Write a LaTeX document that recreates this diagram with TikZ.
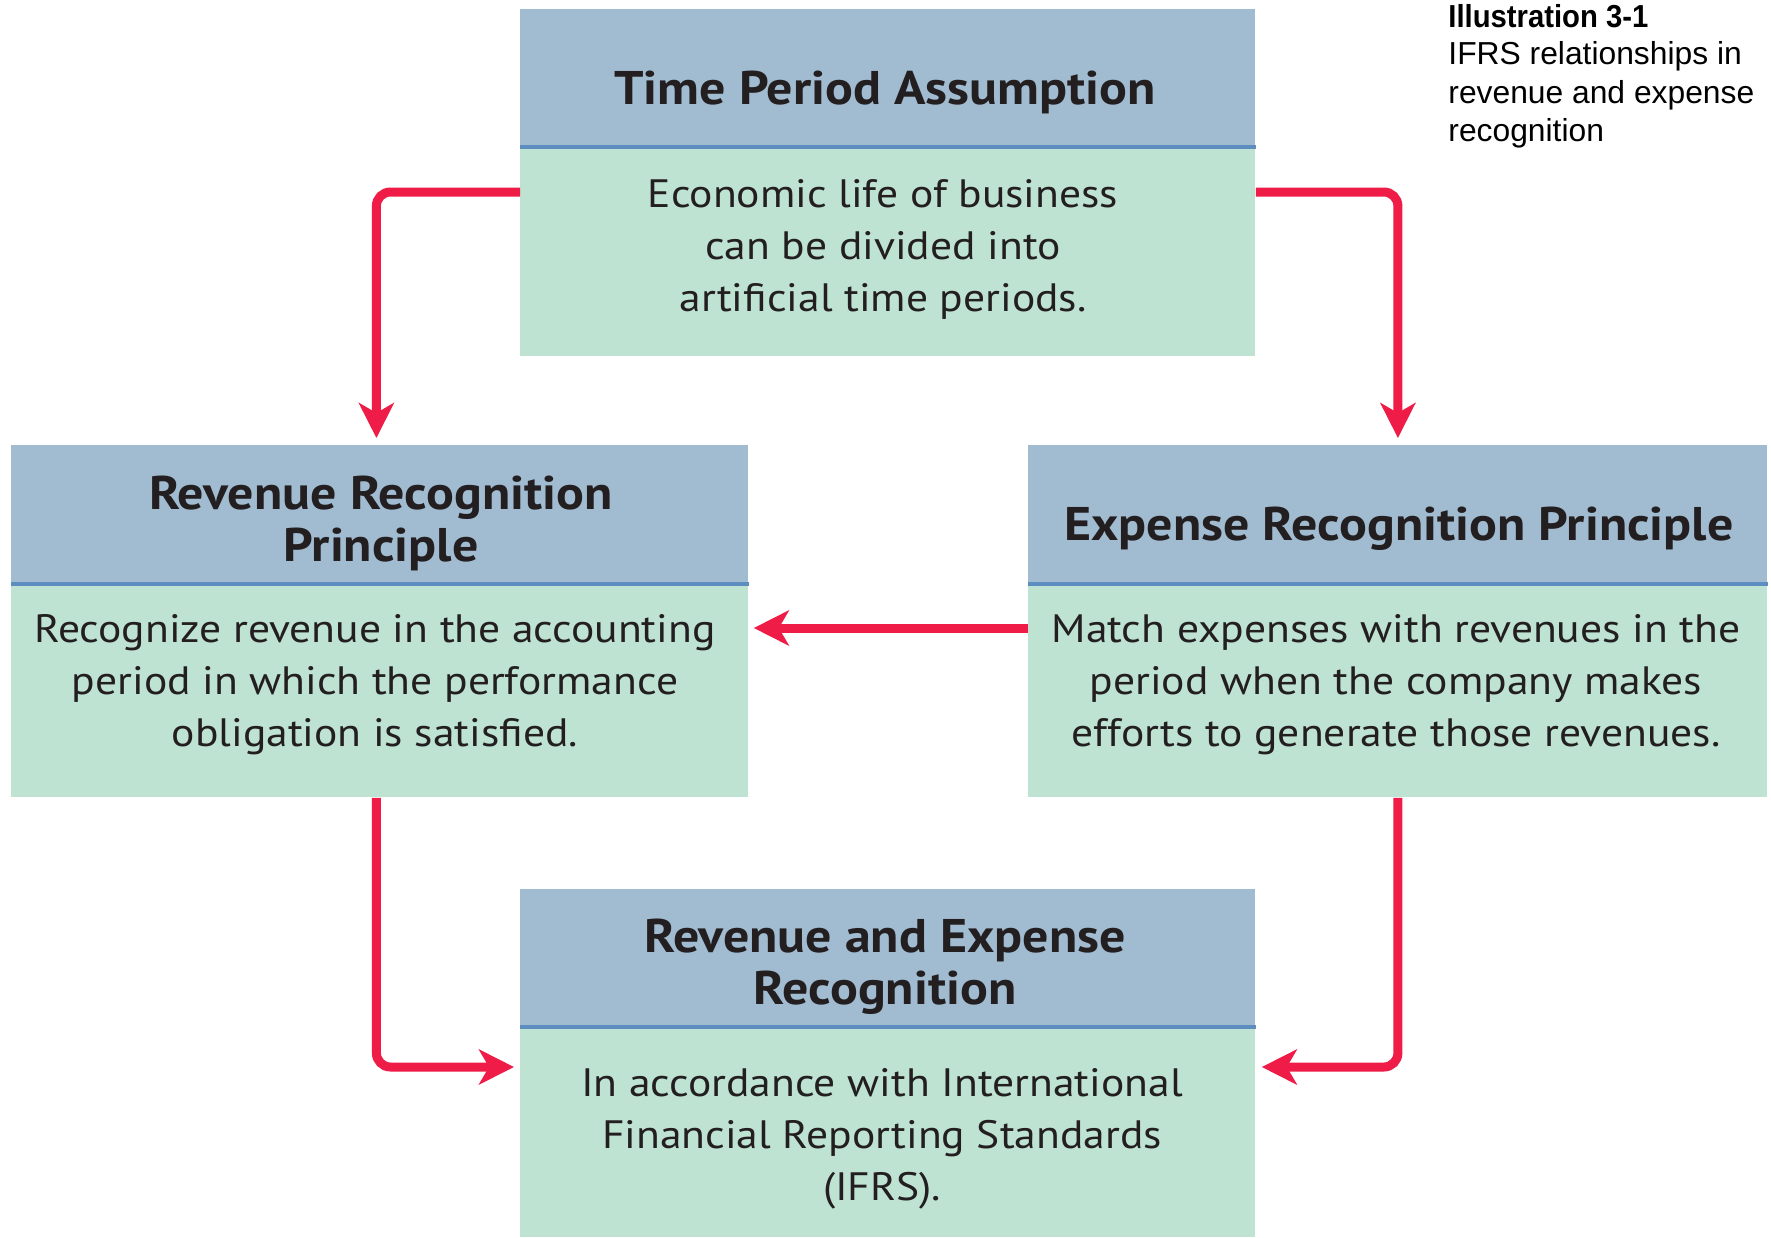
\documentclass[tikz,border=0pt]{standalone}
\usepackage{fontspec}
\setmainfont{PT Sans}[FakeStretch=1.1]
\newfontfamily\capfont{Liberation Sans}
\newfontfamily\capbfont{Liberation Sans}[FakeStretch=0.92]
\usetikzlibrary{arrows.meta,calc}
\definecolor{hdr}{HTML}{A1BBD1}
\definecolor{hline}{HTML}{5E8EC0}
\definecolor{bdy}{HTML}{BFE3D3}
\definecolor{arr}{HTML}{EE1C47}
\definecolor{ink}{HTML}{231F20}
\begin{document}
\begin{tikzpicture}[x=0.5pt,y=-0.5pt,
  hdrbox/.style={fill=hdr,draw=none,anchor=north west,inner sep=0pt,minimum height=68pt},
  bdybox/.style={fill=bdy,draw=none,anchor=north west,inner sep=0pt},
  sepline/.style={draw=hline,line width=2pt},
  htxt/.style={font=\fontsize{23.6}{26}\selectfont\bfseries,text=ink,align=center,inner sep=0pt},
  btxt/.style={font=\fontsize{19.8}{26}\selectfont,text=ink,align=center,inner sep=0pt},
  captxt/.style={font=\capfont\fontsize{15.9}{19}\selectfont,anchor=base west,inner sep=0pt,text=black},
  conn/.style={draw=arr,line width=4.5pt,rounded corners=7pt,-{Stealth[length=17.5pt,width=17.5pt,inset=5pt]}}]
\useasboundingbox (0,0) rectangle (1771,1237);
% top box
\node[hdrbox,minimum width=367.5pt] (tH) at (520,9) {};
\node[bdybox,minimum width=367.5pt,minimum height=105.5pt] (tB) at (520,145) {};
\draw[sepline] ([yshift=-1pt]tB.north west) -- ([yshift=-1pt]tB.north east);
\node[htxt] (tHt) at (885,92) {Time Period Assumption};
\node[btxt] (tBt) at (883,249) {Economic life of business\\can be divided into\\artificial time periods.};
% left box
\node[hdrbox,minimum width=368.5pt,minimum height=68.5pt] (lH) at (11,445) {};
\node[bdybox,minimum width=368.5pt,minimum height=107.5pt] (lB) at (11,582) {};
\draw[sepline] ([yshift=-1pt]lB.north west) -- ([yshift=-1pt]lB.north east);
\node[htxt] (lHt) at (381,523) {Revenue Recognition\\Principle};
\node[btxt] (lBt) at (375,685) {Recognize revenue in the accounting\\period in which the performance\\obligation is satisfied.};
% right box
\node[hdrbox,minimum width=369.5pt,minimum height=68.5pt] (rH) at (1028,445) {};
\node[bdybox,minimum width=369.5pt,minimum height=107.5pt] (rB) at (1028,582) {};
\draw[sepline] ([yshift=-1pt]rB.north west) -- ([yshift=-1pt]rB.north east);
\node[htxt] (rHt) at (1399,529) {Expense Recognition Principle};
\node[btxt] (rBt) at (1396,685) {Match expenses with revenues in the\\period when the company makes\\efforts to generate those revenues.};
% bottom box
\node[hdrbox,minimum width=367.5pt] (bH) at (520,889) {};
\node[bdybox,minimum width=367.5pt,minimum height=106pt] (bB) at (520,1025) {};
\draw[sepline] ([yshift=-1pt]bB.north west) -- ([yshift=-1pt]bB.north east);
\node[htxt] (bHt) at (885,967) {Revenue and Expense\\Recognition};
\node[btxt] (bBt) at (882,1139) {In accordance with International\\Financial Reporting Standards\\(IFRS).};
% caption
\node[captxt,font=\capbfont\bfseries\fontsize{15.9}{19}\selectfont] (c1) at (1448,27) {Illustration 3-1};
\node[captxt] (c2) at (1448,64) {IFRS relationships in};
\node[captxt] (c3) at (1448,103) {revenue and expense};
\node[captxt] (c4) at (1448,141) {recognition};
% connectors
\draw[conn] ([yshift=-23.5pt]tB.north west) -| ([yshift=3.5pt,xshift=-1.75pt]lH.north);
\draw[conn] ([yshift=-23.5pt]tB.north east) -| ([yshift=3.5pt]rH.north);
\draw[conn] ([yshift=-23pt]rB.north west) -- ([yshift=-23pt,xshift=2.5pt]lB.north east);
\draw[conn] ([xshift=-1.75pt]lB.south) |- ([yshift=-21pt,xshift=-3pt]bB.north west);
\draw[conn] (rB.south) |- ([yshift=-21pt,xshift=3pt]bB.north east);
\end{tikzpicture}
\end{document}
